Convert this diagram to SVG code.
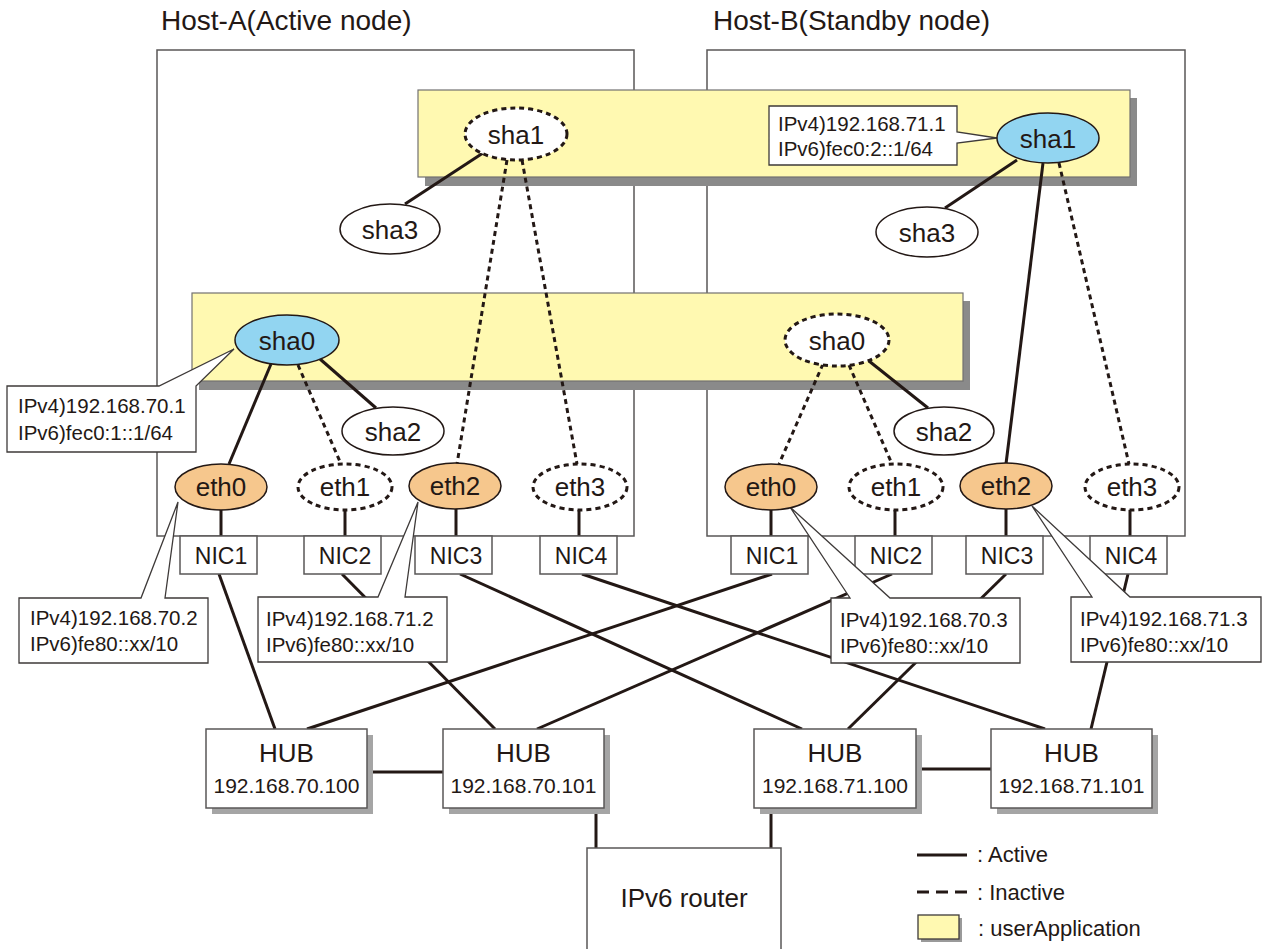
<svg xmlns="http://www.w3.org/2000/svg" width="1263" height="949" viewBox="0 0 1263 949">
<style>
text{font-family:"Liberation Sans",Arial,Helvetica,sans-serif;fill:#231815}
.title{font-size:28px}
.node{font-size:26px;text-anchor:middle}
.nic{font-size:23px;text-anchor:middle}
.lbl{font-size:20.5px}
.hub{font-size:26px;text-anchor:middle}
.ip{font-size:21px;text-anchor:middle}
.leg{font-size:22px}
.host{fill:none;stroke:#595757;stroke-width:1.5}
.band{fill:#FFF9B1;stroke:#727171;stroke-width:1.2}
.bshadow{fill:#8a8a8a}
.hshadow{fill:#a5a5a5}
.act{stroke:#231815;stroke-width:3;fill:none}
.inact{stroke:#231815;stroke-width:3;stroke-dasharray:5 4;fill:none}
.ew{fill:#fff;stroke:#231815;stroke-width:1.5}
.ed{fill:#fff;stroke:#231815;stroke-width:3;stroke-dasharray:5 4}
.eb{fill:#92D5F1;stroke:#231815;stroke-width:1.5}
.eo{fill:#F6C78D;stroke:#231815;stroke-width:1.5}
.box{fill:#fff;stroke:#595757;stroke-width:1.5}
.call{fill:#fff;stroke:#3e3a39;stroke-width:1.3;stroke-linejoin:miter}
</style>

<g id="hostA">
<rect class="host" x="157" y="50" width="477" height="486"/>
<text class="title" x="161" y="30">Host-A(Active node)</text>
</g>
<g id="hostB">
<rect class="host" x="707" y="50" width="478" height="486"/>
<text class="title" x="713" y="30">Host-B(Standby node)</text>
</g>

<g id="userApp1">
<rect class="bshadow" x="425" y="98" width="712" height="88"/>
<rect class="band" x="418" y="90" width="712" height="87"/>
</g>
<g id="userApp0">
<rect class="bshadow" x="199" y="301" width="771" height="89"/>
<rect class="band" x="192" y="293" width="771" height="88"/>
</g>

<g id="connectors">
<line class="act" x1="483" y1="153" x2="405" y2="204"/>
<line class="inact" x1="507" y1="160" x2="457" y2="464"/>
<line class="inact" x1="522" y1="160" x2="577" y2="464"/>
<line class="act" x1="271" y1="364" x2="229" y2="464"/>
<line class="inact" x1="298" y1="365" x2="341" y2="464"/>
<line class="act" x1="320" y1="359" x2="376" y2="408"/>
<line class="act" x1="1017" y1="160" x2="945" y2="208"/>
<line class="act" x1="1043" y1="163" x2="1006" y2="464"/>
<line class="inact" x1="1059" y1="163" x2="1129" y2="464"/>
<line class="inact" x1="823" y1="364" x2="779" y2="464"/>
<line class="inact" x1="849" y1="365" x2="892" y2="464"/>
<line class="act" x1="869" y1="361" x2="928" y2="408"/>
<line class="act" x1="221" y1="508" x2="221" y2="536"/>
<line class="act" x1="345" y1="508" x2="345" y2="536"/>
<line class="act" x1="456" y1="508" x2="456" y2="536"/>
<line class="act" x1="579" y1="508" x2="579" y2="536"/>
<line class="act" x1="771" y1="508" x2="771" y2="536"/>
<line class="act" x1="895" y1="508" x2="895" y2="536"/>
<line class="act" x1="1006" y1="508" x2="1006" y2="536"/>
<line class="act" x1="1130" y1="508" x2="1130" y2="536"/>
<line class="act" x1="219" y1="574" x2="275" y2="729"/>
<line class="act" x1="342" y1="574" x2="495" y2="729"/>
<line class="act" x1="460" y1="574" x2="802" y2="729"/>
<line class="act" x1="582" y1="574" x2="1045" y2="729"/>
<line class="act" x1="772" y1="574" x2="307" y2="729"/>
<line class="act" x1="892" y1="574" x2="537" y2="729"/>
<line class="act" x1="1006" y1="574" x2="848" y2="729"/>
<line class="act" x1="1128" y1="574" x2="1091" y2="729"/>
<line class="act" x1="367" y1="772" x2="443" y2="772"/>
<line class="act" x1="916" y1="769" x2="991" y2="769"/>
<line class="act" x1="596" y1="808" x2="596" y2="848"/>
<line class="act" x1="771" y1="808" x2="771" y2="848"/>
</g>

<g id="nicA1"><rect class="box" x="180" y="536" width="77" height="38"/><text class="nic" x="221" y="564">NIC1</text></g>
<g id="nicA2"><rect class="box" x="304" y="536" width="77" height="38"/><text class="nic" x="345" y="564">NIC2</text></g>
<g id="nicA3"><rect class="box" x="415" y="536" width="77" height="38"/><text class="nic" x="456" y="564">NIC3</text></g>
<g id="nicA4"><rect class="box" x="540" y="536" width="77" height="38"/><text class="nic" x="581" y="564">NIC4</text></g>
<g id="nicB1"><rect class="box" x="731" y="536" width="77" height="38"/><text class="nic" x="772" y="564">NIC1</text></g>
<g id="nicB2"><rect class="box" x="855" y="536" width="77" height="38"/><text class="nic" x="896" y="564">NIC2</text></g>
<g id="nicB3"><rect class="box" x="966" y="536" width="77" height="38"/><text class="nic" x="1007" y="564">NIC3</text></g>
<g id="nicB4"><rect class="box" x="1090" y="536" width="77" height="38"/><text class="nic" x="1131" y="564">NIC4</text></g>

<g id="label-sha0A">
<path class="call" d="M7,386 H159 L234,349 L196,386 V452 H7 Z"/>
<text class="lbl" x="18" y="413">IPv4)192.168.70.1</text>
<text class="lbl" x="18" y="440">IPv6)fec0:1::1/64</text>
</g>
<g id="label-sha1B">
<path class="call" d="M769,106 H957 V132 L997,138 L957,143 V165 H769 Z"/>
<text class="lbl" x="778" y="131">IPv4)192.168.71.1</text>
<text class="lbl" x="778" y="156">IPv6)fec0:2::1/64</text>
</g>
<g id="label-eth0A">
<path class="call" d="M19,598 H141 L178,502 L165,598 H208 V663 H19 Z"/>
<text class="lbl" x="30" y="625">IPv4)192.168.70.2</text>
<text class="lbl" x="30" y="651">IPv6)fe80::xx/10</text>
</g>
<g id="label-eth2A">
<path class="call" d="M258,597 H378 L418,502 L405,597 H447 V662 H258 Z"/>
<text class="lbl" x="266" y="626">IPv4)192.168.71.2</text>
<text class="lbl" x="266" y="652">IPv6)fe80::xx/10</text>
</g>
<g id="label-eth0B">
<path class="call" d="M831,598 H850 L790,507 L890,598 H1020 V663 H831 Z"/>
<text class="lbl" x="840" y="627">IPv4)192.168.70.3</text>
<text class="lbl" x="840" y="653">IPv6)fe80::xx/10</text>
</g>
<g id="label-eth2B">
<path class="call" d="M1071,597 H1092 L1032,506 L1130,597 H1261 V662 H1071 Z"/>
<text class="lbl" x="1080" y="626">IPv4)192.168.71.3</text>
<text class="lbl" x="1080" y="652">IPv6)fe80::xx/10</text>
</g>

<g id="sha1A"><ellipse class="ed" cx="516" cy="134" rx="51" ry="26"/><text class="node" x="516" y="144">sha1</text></g>
<g id="sha3A"><ellipse class="ew" cx="390" cy="229" rx="50" ry="25"/><text class="node" x="390" y="239">sha3</text></g>
<g id="sha0A"><ellipse class="eb" cx="287" cy="340" rx="52" ry="25"/><text class="node" x="287" y="350">sha0</text></g>
<g id="sha2A"><ellipse class="ew" cx="393" cy="431" rx="51" ry="24"/><text class="node" x="393" y="441">sha2</text></g>
<g id="eth0A"><ellipse class="eo" cx="221" cy="487" rx="46" ry="23"/><text class="node" x="221" y="496">eth0</text></g>
<g id="eth1A"><ellipse class="ed" cx="345" cy="487" rx="47" ry="23"/><text class="node" x="345" y="496">eth1</text></g>
<g id="eth2A"><ellipse class="eo" cx="455" cy="486" rx="46" ry="23"/><text class="node" x="455" y="495">eth2</text></g>
<g id="eth3A"><ellipse class="ed" cx="580" cy="487" rx="47" ry="23"/><text class="node" x="580" y="496">eth3</text></g>

<g id="sha1B"><ellipse class="eb" cx="1048" cy="138" rx="51" ry="25"/><text class="node" x="1048" y="148">sha1</text></g>
<g id="sha3B"><ellipse class="ew" cx="927" cy="232" rx="51" ry="25"/><text class="node" x="927" y="242">sha3</text></g>
<g id="sha0B"><ellipse class="ed" cx="837" cy="340" rx="52" ry="26"/><text class="node" x="837" y="350">sha0</text></g>
<g id="sha2B"><ellipse class="ew" cx="944" cy="431" rx="50" ry="24"/><text class="node" x="944" y="441">sha2</text></g>
<g id="eth0B"><ellipse class="eo" cx="771" cy="487" rx="46" ry="23"/><text class="node" x="771" y="496">eth0</text></g>
<g id="eth1B"><ellipse class="ed" cx="896" cy="487" rx="47" ry="23"/><text class="node" x="896" y="496">eth1</text></g>
<g id="eth2B"><ellipse class="eo" cx="1006" cy="486" rx="46" ry="23"/><text class="node" x="1006" y="495">eth2</text></g>
<g id="eth3B"><ellipse class="ed" cx="1132" cy="487" rx="47" ry="23"/><text class="node" x="1132" y="496">eth3</text></g>

<g id="hub1">
<rect class="hshadow" x="212" y="735" width="161" height="79"/>
<rect class="box" x="206" y="729" width="161" height="79"/>
<text class="hub" x="286.5" y="762">HUB</text>
<text class="ip" x="286.5" y="793">192.168.70.100</text>
</g>
<g id="hub2">
<rect class="hshadow" x="449" y="735" width="161" height="79"/>
<rect class="box" x="443" y="729" width="161" height="79"/>
<text class="hub" x="523.5" y="762">HUB</text>
<text class="ip" x="523.5" y="793">192.168.70.101</text>
</g>
<g id="hub3">
<rect class="hshadow" x="760" y="735" width="162" height="79"/>
<rect class="box" x="754" y="729" width="162" height="79"/>
<text class="hub" x="835" y="762">HUB</text>
<text class="ip" x="835" y="793">192.168.71.100</text>
</g>
<g id="hub4">
<rect class="hshadow" x="997" y="735" width="161" height="79"/>
<rect class="box" x="991" y="729" width="161" height="79"/>
<text class="hub" x="1071.5" y="762">HUB</text>
<text class="ip" x="1071.5" y="793">192.168.71.101</text>
</g>

<g id="router">
<rect class="box" x="587" y="848" width="194" height="120"/>
<text class="hub" x="684" y="907">IPv6 router</text>
</g>

<g id="legend">
<line class="act" x1="917" y1="855" x2="967" y2="855"/>
<text class="leg" x="977" y="862">: Active</text>
<line x1="917" y1="892" x2="967" y2="892" stroke="#231815" stroke-width="3" stroke-dasharray="12 7"/>
<text class="leg" x="977" y="900">: Inactive</text>
<rect x="921" y="918" width="41" height="24" fill="#9a9a9a"/>
<rect x="918" y="915" width="41" height="24" fill="#FFF9B1" stroke="#3e3a39" stroke-width="1.3"/>
<text class="leg" x="978" y="936">: userApplication</text>
</g>
</svg>
